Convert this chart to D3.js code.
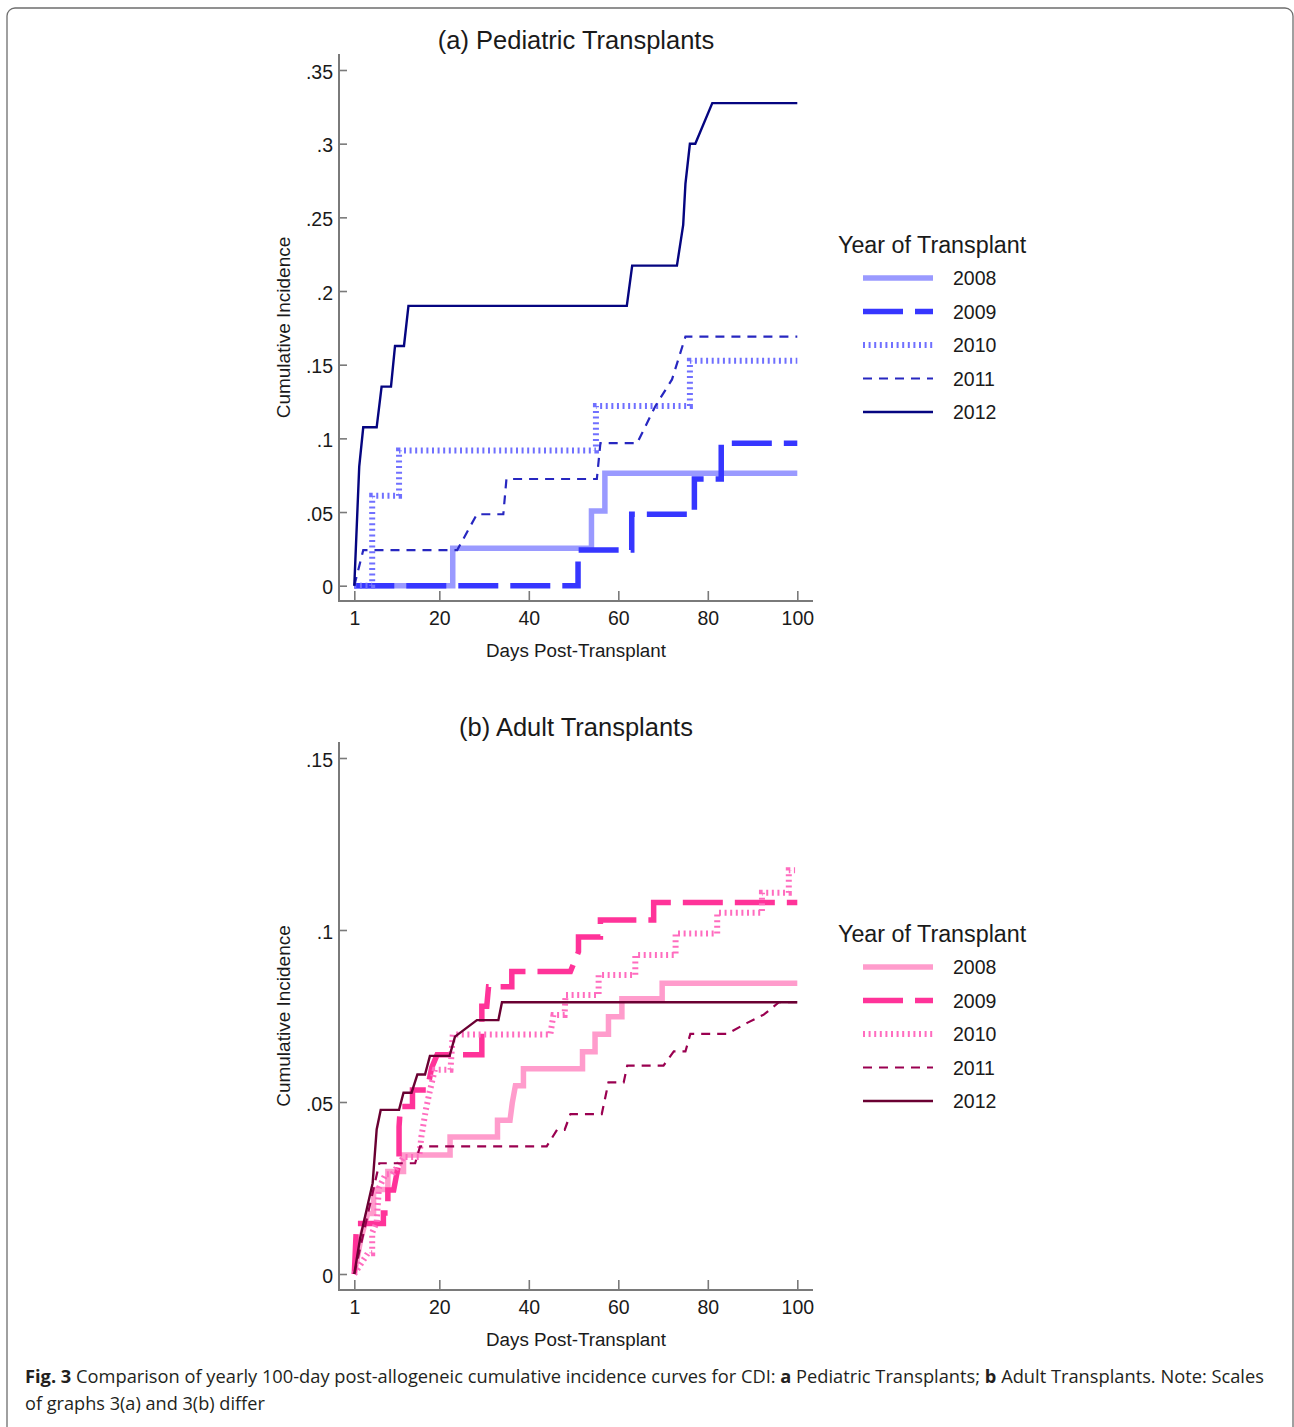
<!DOCTYPE html>
<html><head><meta charset="utf-8">
<script src="https://d3js.org/d3.v7.min.js"></script>
<style>body{margin:0;background:#fff}</style>
</head><body>
<svg id="c" width="1294" height="1427" xmlns="http://www.w3.org/2000/svg"></svg>
<script>
// ---------------- DATA ----------------
const years = ["2008", "2009", "2010", "2011", "2012"];
const xTicks = [1, 20, 40, 60, 80, 100];
const xTickLabels = ["1", "20", "40", "60", "80", "100"];
const yTicksA = [0, 0.05, 0.1, 0.15, 0.2, 0.25, 0.3, 0.35];
const yTickLabelsA = ["0", ".05", ".1", ".15", ".2", ".25", ".3", ".35"];
const yTicksB = [0, 0.05, 0.1, 0.15];
const yTickLabelsB = ["0", ".05", ".1", ".15"];

// (a) Pediatric: [day, cumulative incidence]
const ped2008 = [[1,0],[23,0],[23,0.0254],[54,0.0254],[54,0.0507],[57,0.0507],[57,0.0763],[100,0.0763]];
const ped2009 = [[1,0],[51,0],[51,0.0242],[63,0.0242],[63,0.0485],[77,0.0485],[77,0.0724],[83,0.0724],[83,0.0967],[100,0.0967]];
const ped2010 = [[1,0],[5,0],[5,0.0611],[11,0.0611],[11,0.0917],[55,0.0917],[55,0.122],[76,0.122],[76,0.1527],[100,0.1527]];
const ped2011 = [[1,0],[3,0.0242],[24,0.0242],[28.4,0.0485],[34.3,0.0485],[35,0.0724],[55.2,0.0724],[56,0.0967],[64.2,0.0967],[68.3,0.122],[72,0.14],[75,0.169],[100,0.169]];
const ped2012 = [[1,0],[2.1,0.0808],[3,0.1075],[6,0.1075],[7.1,0.1351],[9.2,0.1351],[10.1,0.1627],[12.1,0.1627],[13.1,0.1899],[61.9,0.1899],[63.1,0.2172],[73.1,0.2172],[74.5,0.2449],[75,0.2727],[76,0.2999],[77.2,0.2999],[81,0.3275],[100,0.3275]];

// (b) Adult
const adu2008 = [[1,0],[2.5,0.0104],[4,0.0176],[5.3,0.0176],[5.3,0.0246],[8.5,0.0246],[8.5,0.0298],[12,0.0298],[12,0.0346],[22.4,0.0346],[22.4,0.0398],[33,0.0398],[33,0.0447],[35.8,0.0447],[36.3,0.0497],[37,0.0547],[38.8,0.0547],[38.8,0.0597],[52,0.0597],[52,0.0646],[54.8,0.0646],[54.8,0.0697],[57.8,0.0697],[57.8,0.0748],[60.8,0.0748],[60.8,0.08],[69.8,0.08],[69.8,0.0845],[100,0.0845]];
const adu2009 = [[1,0],[1.5,0.0147],[7.5,0.0147],[7.5,0.0177],[8.5,0.0177],[8.5,0.0244],[9.8,0.0244],[10.8,0.0312],[11,0.0312],[11,0.0428],[11.3,0.0487],[14,0.0487],[14,0.0535],[17.3,0.0535],[18.3,0.06],[19.5,0.0637],[29.5,0.0637],[29.5,0.0778],[30.6,0.0778],[31,0.0835],[36.2,0.0835],[36.2,0.0879],[49.3,0.0879],[51.1,0.0937],[51.1,0.098],[56,0.098],[56,0.1029],[67.9,0.1029],[67.9,0.108],[100,0.108]];
const adu2010 = [[1,0],[4,0.006],[5,0.006],[5,0.012],[6,0.015],[6.5,0.025],[8,0.029],[9.5,0.029],[12,0.034],[15.5,0.034],[16,0.04],[17,0.0478],[17.8,0.0527],[19,0.0594],[22.5,0.0594],[23,0.0696],[44.8,0.0696],[45.5,0.0753],[48,0.0753],[48.2,0.0811],[55.6,0.0811],[55.6,0.0869],[63.8,0.0869],[63.8,0.0927],[72.8,0.0927],[72.8,0.099],[82.1,0.099],[82.1,0.105],[92.1,0.105],[92.1,0.1108],[98.1,0.1108],[98.1,0.1174],[99.5,0.1174]];
const adu2011 = [[1,0],[6.6,0.0322],[14.6,0.0322],[15.7,0.0371],[44,0.0371],[46.3,0.0419],[48,0.0419],[49.3,0.0465],[56.3,0.0465],[57.8,0.0557],[61.2,0.0557],[62,0.0606],[70.1,0.0606],[72.4,0.0647],[75,0.0647],[76.1,0.0698],[84.3,0.0698],[88.8,0.073],[92.5,0.0754],[95.9,0.079],[100,0.079]];
const adu2012 = [[1,0],[2.3,0.0104],[5.1,0.0264],[6,0.042],[6.9,0.0477],[11,0.0477],[12,0.0527],[13.8,0.0527],[15.1,0.058],[16.8,0.058],[17.9,0.0634],[22.3,0.0634],[23.5,0.069],[28.4,0.0738],[33.2,0.0738],[34,0.079],[100,0.079]];

// ---------------- STYLES ----------------
const colorsA = ["#9a9aff", "#3636ff", "#7070ff", "#2727c0", "#050580"];
const colorsB = ["#ff9ccc", "#ff3399", "#ff6cbf", "#9a0050", "#6a0032"];
const widths = [5.5, 5.5, 6, 2.2, 2.4];
const dashes = ["none", "40,12", "2,3.6", "9,7", "none"];
const FONT = "'Liberation Sans', Arial, Helvetica, sans-serif";

const svg = d3.select("#c");
svg.append("rect").attr("x", 7).attr("y", 8).attr("width", 1286).attr("height", 1450)
  .attr("rx", 8).attr("fill", "none").attr("stroke", "#6e6e6e").attr("stroke-width", 1.3);

function panel(cfg) {
  const g = svg.append("g");
  const x = d3.scaleLinear().domain([1, 100]).range([354.3, 797.3]);
  const y = d3.scaleLinear().domain(cfg.yDomain).range(cfg.yRange);

  // title
  g.append("text").attr("x", 576).attr("y", cfg.titleY).attr("text-anchor", "middle")
    .attr("font-family", FONT).attr("font-size", 25.5).attr("fill", "#1a1a1a").text(cfg.title);

  // y axis
  const yAx = d3.axisLeft(y).tickValues(cfg.yTicks).tickFormat((d, i) => cfg.yLabels[i])
    .tickSizeInner(-8).tickSizeOuter(0).tickPadding(6);
  const ya = g.append("g").attr("transform", "translate(339,0)").call(yAx);
  ya.select(".domain").remove();
  ya.selectAll("line").attr("stroke", "#7a7a7a").attr("stroke-width", 1.6);
  ya.selectAll("text").attr("font-family", FONT).attr("font-size", 19.5).attr("fill", "#1a1a1a")
    .attr("dy", "0.42em");
  g.append("line").attr("x1", 339).attr("x2", 339).attr("y1", cfg.axTop).attr("y2", cfg.axBottom)
    .attr("stroke", "#7a7a7a").attr("stroke-width", 2);

  // x axis
  const xAx = d3.axisBottom(x).tickValues(xTicks).tickFormat((d, i) => xTickLabels[i])
    .tickSizeInner(-10).tickSizeOuter(0).tickPadding(10);
  const xa = g.append("g").attr("transform", `translate(0,${cfg.axBottom})`).call(xAx);
  xa.select(".domain").remove();
  xa.selectAll("line").attr("stroke", "#7a7a7a").attr("stroke-width", 1.6);
  xa.selectAll("text").attr("font-family", FONT).attr("font-size", 19.5).attr("fill", "#1a1a1a");
  g.append("line").attr("x1", 338).attr("x2", 813).attr("y1", cfg.axBottom).attr("y2", cfg.axBottom)
    .attr("stroke", "#7a7a7a").attr("stroke-width", 2);

  // axis titles
  g.append("text").attr("x", 576).attr("y", cfg.axBottom + 56).attr("text-anchor", "middle")
    .attr("font-family", FONT).attr("font-size", 18.8).attr("fill", "#1a1a1a").text("Days Post-Transplant");
  const yMid = (cfg.axTop + cfg.axBottom) / 2;
  g.append("text").attr("transform", `translate(290,${yMid}) rotate(-90)`).attr("text-anchor", "middle")
    .attr("font-family", FONT).attr("font-size", 19).attr("fill", "#1a1a1a").text("Cumulative Incidence");

  // series
  const line = d3.line().x(d => x(d[0])).y(d => y(d[1]));
  cfg.series.forEach((s, i) => {
    g.append("path").datum(s).attr("d", line).attr("fill", "none")
      .attr("stroke", cfg.colors[i]).attr("stroke-width", widths[i])
      .attr("stroke-dasharray", dashes[i]).attr("stroke-linejoin", "miter");
  });

  // legend
  g.append("text").attr("x", 838).attr("y", cfg.legY).attr("font-family", FONT).attr("font-size", 23.3)
    .attr("fill", "#1a1a1a").text("Year of Transplant");
  years.forEach((yr, i) => {
    const ly = cfg.legY + 25 + i * 33.5;
    g.append("line").attr("x1", 863).attr("x2", 933).attr("y1", ly).attr("y2", ly)
      .attr("stroke", cfg.colors[i]).attr("stroke-width", widths[i]).attr("stroke-dasharray", dashes[i]);
    g.append("text").attr("x", 953).attr("y", ly + 7).attr("font-family", FONT).attr("font-size", 19.5)
      .attr("fill", "#1a1a1a").text(yr);
  });
}

panel({
  title: "(a) Pediatric Transplants", titleY: 49,
  yDomain: [0, 0.35], yRange: [585.7, 70], axTop: 54, axBottom: 601,
  yTicks: yTicksA, yLabels: yTickLabelsA, colors: colorsA,
  series: [ped2008, ped2009, ped2010, ped2011, ped2012], legY: 253
});
panel({
  title: "(b) Adult Transplants", titleY: 736,
  yDomain: [0, 0.15], yRange: [1274, 758], axTop: 742, axBottom: 1290,
  yTicks: yTicksB, yLabels: yTickLabelsB, colors: colorsB,
  series: [adu2008, adu2009, adu2010, adu2011, adu2012], legY: 942
});

// caption
const CAP = "'Open Sans', 'Noto Sans', sans-serif";
function capLine(yPos, parts, targetW) {
  const t = svg.append("text").attr("x", 0).attr("y", 0).attr("font-family", CAP)
    .attr("font-size", 18.5).attr("fill", "#231f20");
  parts.forEach(p => t.append("tspan").attr("font-weight", p[1] ? "bold" : "normal").text(p[0]));
  const w = t.node().getComputedTextLength();
  const sx = targetW / w;
  t.attr("transform", `translate(25,${yPos}) scale(${sx},1)`);
}
capLine(1383, [["Fig. 3", 1], [" Comparison of yearly 100-day post-allogeneic cumulative incidence curves for CDI: ", 0],
  ["a", 1], [" Pediatric Transplants; ", 0], ["b", 1], [" Adult Transplants. Note: Scales", 0]], 1240);
capLine(1410, [["of graphs 3(a) and 3(b) differ", 0]], 240);
</script>
</body></html>
